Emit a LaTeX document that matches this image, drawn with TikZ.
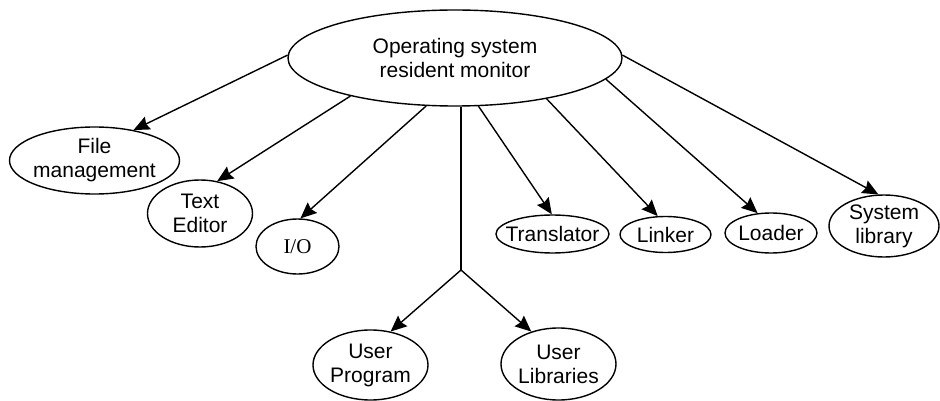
\documentclass[tikz,border=0pt]{standalone}
\usepackage{fontspec}
\setmainfont{Liberation Sans}
\newfontfamily\serifio{Liberation Serif}
\usetikzlibrary{shapes.geometric,arrows.meta}
\begin{document}
\begin{tikzpicture}[x=1pt,y=-1pt,
  ell/.style={draw, ellipse, line width=1.4pt, inner sep=-12pt, align=center, font=\fontsize{21}{24}\selectfont},
  arr/.style={line width=1.4pt, -{Stealth[length=16pt,width=14pt,inset=2pt]}},
  ln/.style={line width=1.4pt}]
\useasboundingbox (0,0) rectangle (940,401);
\node[ell, minimum width=334pt, minimum height=96pt] (os) at (455,58) {Operating system\\resident monitor};
\node[ell, minimum width=170pt, minimum height=67pt] (fm) at (94.5,160.5) {File\\management};
\node[ell, minimum width=105pt, minimum height=67pt] (te) at (200,213.5) {Text\\Editor};
\node[ell, minimum width=83pt, minimum height=55pt, font=\fontsize{21}{24}\serifio] (io) at (297.5,246.5) {I/O};
\node[ell, minimum width=113pt, minimum height=38pt] (tr) at (552.5,234) {Translator};
\node[ell, minimum width=91pt, minimum height=36pt] (li) at (665.5,234.5) {Linker};
\node[ell, minimum width=92pt, minimum height=40pt] (lo) at (771,233) {Loader};
\node[ell, minimum width=110pt, minimum height=62pt] (sl) at (884,226) {System\\library};
\node[ell, minimum width=115pt, minimum height=70pt] (up) at (370.5,365) {User\\Program};
\node[ell, minimum width=115pt, minimum height=72pt] (ul) at (558.5,364) {User\\Libraries};
\coordinate (j) at (461,270);
\draw[arr] (os.179) -- (fm.38);
\draw[arr] (os.200.7) -- (te.62);
\draw[arr] (os.239.7) -- (io.84);
\draw[ln] (j |- os.south) -- (j);
\draw[arr] (j) -- (up.59);
\draw[arr] (j) -- (ul.130);
\draw[arr] (os.296.6) -- (tr.92);
\draw[arr] (os.336) -- (li.113);
\draw[arr] (os.352) -- (lo.124);
\draw[arr] (os.1) -- (sl.100);
\end{tikzpicture}
\end{document}
